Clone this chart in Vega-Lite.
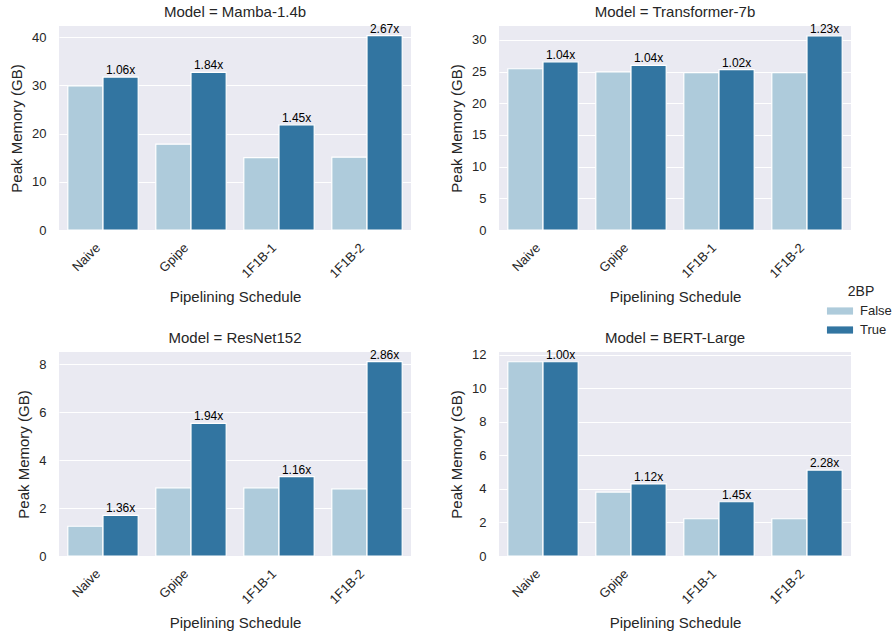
{
  "$schema": "https://vega.github.io/schema/vega-lite/v6.json",
  "padding": {"left": 9, "top": 4, "right": 5, "bottom": 5},
  "datasets": {
    "mem": [
      {"Model": "Mamba-1.4b", "Schedule": "Naive", "BP": "False", "Memory": 29.9, "label": ""},
      {"Model": "Mamba-1.4b", "Schedule": "Naive", "BP": "True", "Memory": 31.7, "label": "1.06x"},
      {"Model": "Mamba-1.4b", "Schedule": "Gpipe", "BP": "False", "Memory": 17.8, "label": ""},
      {"Model": "Mamba-1.4b", "Schedule": "Gpipe", "BP": "True", "Memory": 32.7, "label": "1.84x"},
      {"Model": "Mamba-1.4b", "Schedule": "1F1B-1", "BP": "False", "Memory": 15.0, "label": ""},
      {"Model": "Mamba-1.4b", "Schedule": "1F1B-1", "BP": "True", "Memory": 21.8, "label": "1.45x"},
      {"Model": "Mamba-1.4b", "Schedule": "1F1B-2", "BP": "False", "Memory": 15.1, "label": ""},
      {"Model": "Mamba-1.4b", "Schedule": "1F1B-2", "BP": "True", "Memory": 40.3, "label": "2.67x"},
      {"Model": "Transformer-7b", "Schedule": "Naive", "BP": "False", "Memory": 25.45, "label": ""},
      {"Model": "Transformer-7b", "Schedule": "Naive", "BP": "True", "Memory": 26.55, "label": "1.04x"},
      {"Model": "Transformer-7b", "Schedule": "Gpipe", "BP": "False", "Memory": 24.95, "label": ""},
      {"Model": "Transformer-7b", "Schedule": "Gpipe", "BP": "True", "Memory": 26.0, "label": "1.04x"},
      {"Model": "Transformer-7b", "Schedule": "1F1B-1", "BP": "False", "Memory": 24.85, "label": ""},
      {"Model": "Transformer-7b", "Schedule": "1F1B-1", "BP": "True", "Memory": 25.3, "label": "1.02x"},
      {"Model": "Transformer-7b", "Schedule": "1F1B-2", "BP": "False", "Memory": 24.85, "label": ""},
      {"Model": "Transformer-7b", "Schedule": "1F1B-2", "BP": "True", "Memory": 30.65, "label": "1.23x"},
      {"Model": "ResNet152", "Schedule": "Naive", "BP": "False", "Memory": 1.24, "label": ""},
      {"Model": "ResNet152", "Schedule": "Naive", "BP": "True", "Memory": 1.69, "label": "1.36x"},
      {"Model": "ResNet152", "Schedule": "Gpipe", "BP": "False", "Memory": 2.84, "label": ""},
      {"Model": "ResNet152", "Schedule": "Gpipe", "BP": "True", "Memory": 5.53, "label": "1.94x"},
      {"Model": "ResNet152", "Schedule": "1F1B-1", "BP": "False", "Memory": 2.84, "label": ""},
      {"Model": "ResNet152", "Schedule": "1F1B-1", "BP": "True", "Memory": 3.31, "label": "1.16x"},
      {"Model": "ResNet152", "Schedule": "1F1B-2", "BP": "False", "Memory": 2.8, "label": ""},
      {"Model": "ResNet152", "Schedule": "1F1B-2", "BP": "True", "Memory": 8.1, "label": "2.86x"},
      {"Model": "BERT-Large", "Schedule": "Naive", "BP": "False", "Memory": 11.57, "label": ""},
      {"Model": "BERT-Large", "Schedule": "Naive", "BP": "True", "Memory": 11.57, "label": "1.00x"},
      {"Model": "BERT-Large", "Schedule": "Gpipe", "BP": "False", "Memory": 3.81, "label": ""},
      {"Model": "BERT-Large", "Schedule": "Gpipe", "BP": "True", "Memory": 4.29, "label": "1.12x"},
      {"Model": "BERT-Large", "Schedule": "1F1B-1", "BP": "False", "Memory": 2.22, "label": ""},
      {"Model": "BERT-Large", "Schedule": "1F1B-1", "BP": "True", "Memory": 3.23, "label": "1.45x"},
      {"Model": "BERT-Large", "Schedule": "1F1B-2", "BP": "False", "Memory": 2.22, "label": ""},
      {"Model": "BERT-Large", "Schedule": "1F1B-2", "BP": "True", "Memory": 5.12, "label": "2.28x"}
    ]
  },
  "data": {"name": "mem"},
  "columns": 2,
  "spacing": {"row": 122, "column": 88},
  "bounds": "flush",
  "concat": [
    {
      "title": "Model = Mamba-1.4b",
      "width": 352, "height": 204,
      "transform": [{"filter": "datum.Model === 'Mamba-1.4b'"}],
      "encoding": {
        "x": {"field": "Schedule", "type": "nominal", "sort": ["Naive", "Gpipe", "1F1B-1", "1F1B-2"], "title": "Pipelining Schedule", "scale": {"paddingInner": 0.2, "paddingOuter": 0.1}},
        "xOffset": {"field": "BP", "type": "nominal", "scale": {"domain": ["False", "True"], "paddingInner": 0, "paddingOuter": 0}},
        "y": {"field": "Memory", "type": "quantitative", "title": "Peak Memory (GB)", "scale": {"domain": [0, 42.3], "nice": false}, "axis": {"values": [0, 10, 20, 30, 40]}}
      },
      "layer": [
        {"mark": {"type": "bar", "stroke": "white", "strokeWidth": 1.2}, "encoding": {"color": {"field": "BP", "type": "nominal", "title": "2BP", "scale": {"domain": ["False", "True"], "range": ["#aecbdb", "#3275a1"]}}}},
        {"transform": [{"filter": "datum.BP === 'True'"}], "mark": {"type": "text", "baseline": "bottom", "dy": 0, "fontSize": 12, "font": "Liberation Sans", "color": "black"}, "encoding": {"text": {"field": "label"}}}
      ]
    },
    {
      "title": "Model = Transformer-7b",
      "width": 352, "height": 204,
      "transform": [{"filter": "datum.Model === 'Transformer-7b'"}],
      "encoding": {
        "x": {"field": "Schedule", "type": "nominal", "sort": ["Naive", "Gpipe", "1F1B-1", "1F1B-2"], "title": "Pipelining Schedule", "scale": {"paddingInner": 0.2, "paddingOuter": 0.1}},
        "xOffset": {"field": "BP", "type": "nominal", "scale": {"domain": ["False", "True"], "paddingInner": 0, "paddingOuter": 0}},
        "y": {"field": "Memory", "type": "quantitative", "title": "Peak Memory (GB)", "scale": {"domain": [0, 32.2], "nice": false}, "axis": {"values": [0, 5, 10, 15, 20, 25, 30]}}
      },
      "layer": [
        {"mark": {"type": "bar", "stroke": "white", "strokeWidth": 1.2}, "encoding": {"color": {"field": "BP", "type": "nominal", "title": "2BP", "scale": {"domain": ["False", "True"], "range": ["#aecbdb", "#3275a1"]}}}},
        {"transform": [{"filter": "datum.BP === 'True'"}], "mark": {"type": "text", "baseline": "bottom", "dy": 0, "fontSize": 12, "font": "Liberation Sans", "color": "black"}, "encoding": {"text": {"field": "label"}}}
      ]
    },
    {
      "title": "Model = ResNet152",
      "width": 352, "height": 204,
      "transform": [{"filter": "datum.Model === 'ResNet152'"}],
      "encoding": {
        "x": {"field": "Schedule", "type": "nominal", "sort": ["Naive", "Gpipe", "1F1B-1", "1F1B-2"], "title": "Pipelining Schedule", "scale": {"paddingInner": 0.2, "paddingOuter": 0.1}},
        "xOffset": {"field": "BP", "type": "nominal", "scale": {"domain": ["False", "True"], "paddingInner": 0, "paddingOuter": 0}},
        "y": {"field": "Memory", "type": "quantitative", "title": "Peak Memory (GB)", "scale": {"domain": [0, 8.5], "nice": false}, "axis": {"values": [0, 2, 4, 6, 8]}}
      },
      "layer": [
        {"mark": {"type": "bar", "stroke": "white", "strokeWidth": 1.2}, "encoding": {"color": {"field": "BP", "type": "nominal", "title": "2BP", "scale": {"domain": ["False", "True"], "range": ["#aecbdb", "#3275a1"]}}}},
        {"transform": [{"filter": "datum.BP === 'True'"}], "mark": {"type": "text", "baseline": "bottom", "dy": 0, "fontSize": 12, "font": "Liberation Sans", "color": "black"}, "encoding": {"text": {"field": "label"}}}
      ]
    },
    {
      "title": "Model = BERT-Large",
      "width": 352, "height": 204,
      "transform": [{"filter": "datum.Model === 'BERT-Large'"}],
      "encoding": {
        "x": {"field": "Schedule", "type": "nominal", "sort": ["Naive", "Gpipe", "1F1B-1", "1F1B-2"], "title": "Pipelining Schedule", "scale": {"paddingInner": 0.2, "paddingOuter": 0.1}},
        "xOffset": {"field": "BP", "type": "nominal", "scale": {"domain": ["False", "True"], "paddingInner": 0, "paddingOuter": 0}},
        "y": {"field": "Memory", "type": "quantitative", "title": "Peak Memory (GB)", "scale": {"domain": [0, 12.15], "nice": false}, "axis": {"values": [0, 2, 4, 6, 8, 10, 12]}}
      },
      "layer": [
        {"mark": {"type": "bar", "stroke": "white", "strokeWidth": 1.2}, "encoding": {"color": {"field": "BP", "type": "nominal", "title": "2BP", "scale": {"domain": ["False", "True"], "range": ["#aecbdb", "#3275a1"]}}}},
        {"transform": [{"filter": "datum.BP === 'True'"}], "mark": {"type": "text", "baseline": "bottom", "dy": 0, "fontSize": 12, "font": "Liberation Sans", "color": "black"}, "encoding": {"text": {"field": "label"}}}
      ]
    }
  ],
  "config": {
    "view": {"fill": "#eaeaf2", "stroke": null},
    "font": "Liberation Sans",
    "axis": {"domain": false, "ticks": false, "labelFont": "Liberation Sans", "titleFont": "Liberation Sans", "labelFontSize": 13, "titleFontSize": 15, "labelColor": "#262626", "titleColor": "#262626", "titleFontWeight": "normal", "gridColor": "white", "gridOpacity": 1, "gridWidth": 1.2},
    "axisY": {"labelPadding": 13, "titlePadding": 7},
    "axisX": {"grid": false, "labelAngle": -45, "labelPadding": 11, "labelOffset": -9, "titlePadding": 9},
    "title": {"font": "Liberation Sans", "fontSize": 15, "fontWeight": "normal", "color": "#262626", "offset": 3},
    "legend": {"orient": "none", "legendX": 772, "legendY": 259, "titleFont": "Liberation Sans", "labelFont": "Liberation Sans", "titleFontSize": 14, "labelFontSize": 13, "titleFontWeight": "normal", "titleColor": "#262626", "labelColor": "#262626", "titleAnchor": "middle", "symbolType": "M-1.45,-0.4H1.45V0.4H-1.45Z", "symbolSize": 324, "symbolStrokeWidth": 0, "labelOffset": 11, "rowPadding": 3, "titlePadding": 3}
  }
}
